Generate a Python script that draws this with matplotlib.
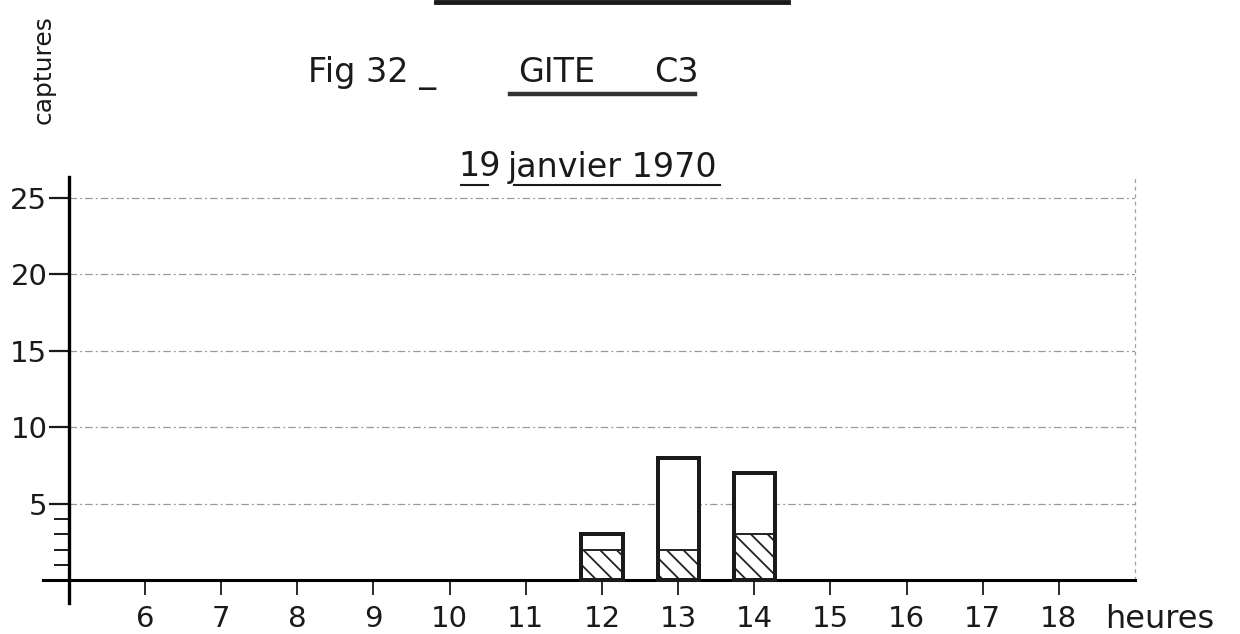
import numpy as np
import matplotlib
matplotlib.use("Agg")
import matplotlib.pyplot as plt
from matplotlib.lines import Line2D

# ---- data ----
hours = np.array([6, 7, 8, 9, 10, 11, 12, 13, 14, 15, 16, 17, 18])
total_captures = np.array([0, 0, 0, 0, 0, 0, 3, 8, 7, 0, 0, 0, 0])
hatched_captures = np.array([0, 0, 0, 0, 0, 0, 2, 2, 3, 0, 0, 0, 0])
y_major = [5, 10, 15, 20, 25]
y_minor = [1, 2, 3, 4]
fig_title = "Fig 32 _"
site_word = "GITE"
site_code = "C3"
date_day = "19"
date_rest = "janvier 1970"
y_label = "captures"
x_label = "heures"

plt.rcParams['font.family'] = ['DejaVu Sans']
plt.rcParams['hatch.linewidth'] = 1.3

W, H = 1240, 634
fig = plt.figure(figsize=(W / 100, H / 100), dpi=100)
fig.patch.set_facecolor('white')

def fx(px):
    return px / W

def fy(py):
    return 1 - py / H

ax = fig.add_axes([fx(43), fy(603), fx(1135) - fx(43), fy(177) - fy(603)])
ax.set_xlim(4.66, 19.0)
ax.set_ylim(-1.5, 26.37)

for s in ['top', 'right']:
    ax.spines[s].set_visible(False)
ax.spines['left'].set_position(('data', 5))
ax.spines['bottom'].set_position(('data', 0))
ax.spines['left'].set_linewidth(2.4)
ax.spines['bottom'].set_linewidth(2.2)

# grid lines
ax.hlines(y_major, 5, 19, colors='#999999', linewidth=0.9,
          linestyles=(0, (6, 2.5, 1.5, 2.5)), zorder=1)
ax.vlines(19, 0, 26.3, colors='#a0a0a0', linewidth=0.9,
          linestyles=(0, (3, 3)), clip_on=False, zorder=1)

# bars
mask = total_captures > 0
ax.bar(hours[mask], total_captures[mask], width=0.54, facecolor='white',
       edgecolor='#1a1a1a', linewidth=2.8, zorder=3)
ax.bar(hours[mask], hatched_captures[mask], width=0.54, facecolor='none',
       edgecolor='#222222', hatch='\\\\', linewidth=1.4, zorder=4)
ax.bar(hours[mask], total_captures[mask], width=0.54, facecolor='none',
       edgecolor='#1a1a1a', linewidth=2.8, zorder=5)

# ticks
ax.set_xticks(hours)
ax.set_xticklabels([str(h) for h in hours])
ax.set_yticks(y_major)
ax.set_yticklabels([str(v) for v in y_major])
ax.set_yticks(y_minor, minor=True)
ax.tick_params(axis='x', direction='out', length=11, width=1.3, pad=7,
               labelsize=21, colors='#1a1a1a')
ax.tick_params(axis='y', which='major', direction='out', length=14.5,
               width=1.6, pad=1, labelsize=21, colors='#1a1a1a')
ax.tick_params(axis='y', which='minor', direction='out', length=11,
               width=1.4, colors='#1a1a1a')

# texts
fig.text(fx(1105), fy(619), x_label, fontsize=23, color='#1a1a1a',
         ha='left', va='center')
fig.text(fx(44), fy(70), y_label, fontsize=18, color='#1a1a1a',
         rotation=90, ha='center', va='center')
fig.text(fx(372), fy(73), fig_title, fontsize=24, color='#1a1a1a',
         ha='center', va='center')
fig.text(fx(557), fy(73), site_word, fontsize=24, color='#1a1a1a',
         ha='center', va='center')
fig.text(fx(676), fy(73), site_code, fontsize=24, color='#1a1a1a',
         ha='center', va='center')
fig.text(fx(458), fy(167), date_day, fontsize=24, color='#1a1a1a',
         ha='left', va='center')
fig.text(fx(717), fy(167), date_rest, fontsize=24, color='#1a1a1a',
         ha='right', va='center')

# underlines
fig.add_artist(Line2D([fx(510), fx(695)], [fy(94), fy(94)], color='#333333',
                      linewidth=3.2, transform=fig.transFigure))
fig.add_artist(Line2D([fx(461), fx(488)], [fy(185), fy(185)], color='#1a1a1a',
                      linewidth=1.5, transform=fig.transFigure))
fig.add_artist(Line2D([fx(514), fx(720)], [fy(185), fy(185)], color='#1a1a1a',
                      linewidth=1.5, transform=fig.transFigure))
fig.add_artist(Line2D([fx(436), fx(788)], [fy(2), fy(2)], color='#1a1a1a',
                      linewidth=3.5, transform=fig.transFigure))

fig.savefig('out.png', dpi=100, facecolor='white')
